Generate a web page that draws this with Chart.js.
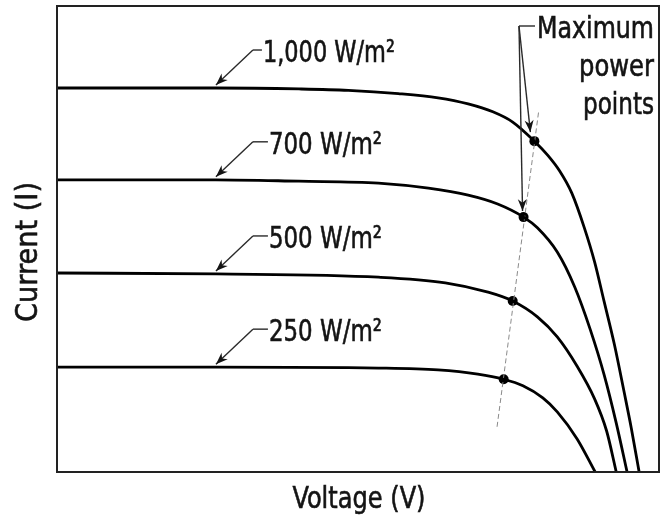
<!DOCTYPE html>
<html>
<head>
<meta charset="utf-8">
<script src="https://cdn.jsdelivr.net/npm/chart.js@4.4.1/dist/chart.umd.min.js"></script>
<style>
  html, body { margin: 0; padding: 0; background: #ffffff; }
  #wrap { width: 664px; height: 519px; position: relative; }
</style>
</head>
<body>
<div id="wrap"><canvas id="c"></canvas></div>
<script>
// ---- Data (voltage and current in relative units, 0..100 of the axes) ----
const seriesLabels = ['1,000 W/m²', '700 W/m²', '500 W/m²', '250 W/m²'];

const voltage1000 = [0, 26.4, 40.2, 48.4, 56.7, 63.3, 68.3, 72.4, 75.7, 79.3, 81.5, 83.5, 85.5, 87.6, 89.3, 90.9, 92.6, 94.2, 95.4, 96.7];
const current1000 = [82.4, 82.4, 82.2, 81.9, 81.2, 80.3, 79.0, 77.3, 75.1, 71.0, 68.0, 64.6, 59.9, 52.4, 45.1, 36.5, 27.3, 17.2, 9.4, 0];

const voltage700 = [0, 26.4, 40.2, 53.4, 61.7, 68.3, 73.2, 77.5, 79.8, 83.1, 86.0, 88.6, 90.9, 92.9, 94.7];
const current700 = [62.7, 62.7, 62.4, 62.0, 60.9, 59.4, 57.5, 54.7, 52.4, 47.2, 39.7, 30.5, 20.8, 10.5, 0];

const voltage500 = [0, 26.4, 53.4, 64.5, 71.6, 75.7, 79.8, 83.1, 86.4, 89.3, 91.3, 92.9];
const current500 = [42.7, 42.5, 41.8, 40.6, 38.6, 36.7, 33.3, 29.0, 22.7, 15.7, 8.8, 0];

const voltage250 = [0, 26.4, 53.4, 63.3, 69.9, 74.2, 77.4, 80.7, 83.1, 86.4, 89.4];
const current250 = [22.5, 22.5, 22.3, 21.9, 21.0, 19.9, 18.5, 15.9, 12.9, 7.1, 0];

const mppVoltage = [79.3, 77.5, 75.7, 74.2];
const mppCurrent = [71.0, 54.7, 36.7, 19.9];

const mppTrendVoltage = [73.1, 80.0];
const mppTrendCurrent = [9.7, 77.3];

const labelArrowVoltage = 26.4;   // where the irradiance label arrows touch the curves
const mppLabelLines = ['Maximum', 'power', 'points'];
const xTitle = 'Voltage (V)';
const yTitle = 'Current (I)';

// ---- helpers ----
const zip = (xs, ys) => xs.map((x, i) => ({ x: x, y: ys[i] }));
const FAMILY = '"Liberation Sans Narrow", "DejaVu Sans Condensed", "Liberation Sans", Arial, sans-serif';

function fitText(ctx, text, x, y, targetW, size, align) {
  ctx.font = size + 'px ' + FAMILY;
  const w = ctx.measureText(text).width;
  const s = targetW / w;
  ctx.save();
  ctx.translate(x, y);
  ctx.scale(s, 1);
  ctx.textAlign = 'left';
  ctx.textBaseline = 'alphabetic';
  const dx = align === 'right' ? -w : (align === 'center' ? -w / 2 : 0);
  ctx.fillText(text, dx, 0);
  ctx.lineWidth = 0.6;
  ctx.strokeStyle = ctx.fillStyle;
  ctx.strokeText(text, dx, 0);
  ctx.restore();
}

function arrow(ctx, x0, y0, x1, y1) {
  ctx.beginPath();
  ctx.moveTo(x0, y0);
  ctx.lineTo(x1, y1);
  ctx.stroke();
  const a = Math.atan2(y1 - y0, x1 - x0);
  const L = 12, H = 4.5;
  ctx.beginPath();
  ctx.moveTo(x1, y1);
  ctx.lineTo(x1 - L * Math.cos(a) + H * Math.sin(a), y1 - L * Math.sin(a) - H * Math.cos(a));
  ctx.lineTo(x1 - L * 0.7 * Math.cos(a), y1 - L * 0.7 * Math.sin(a));
  ctx.lineTo(x1 - L * Math.cos(a) - H * Math.sin(a), y1 - L * Math.sin(a) + H * Math.cos(a));
  ctx.closePath();
  ctx.fill();
}

const curveStyle = {
  borderColor: '#000000',
  borderWidth: 2.8,
  pointRadius: 0,
  fill: false,
  cubicInterpolationMode: 'monotone'
};

const curves = [
  zip(voltage1000, current1000),
  zip(voltage700, current700),
  zip(voltage500, current500),
  zip(voltage250, current250)
];

const annotationPlugin = {
  id: 'annot',
  afterDatasetsDraw(chart) {
    const ctx = chart.ctx;
    const xs = chart.scales.x, ys = chart.scales.y;
    const ca = chart.chartArea;
    ctx.save();
    // frame
    ctx.strokeStyle = '#222222';
    ctx.lineWidth = 2;
    ctx.strokeRect(ca.left, ca.top, ca.right - ca.left, ca.bottom - ca.top);

    ctx.fillStyle = '#141414';
    ctx.strokeStyle = '#2a2a2a';
    ctx.lineWidth = 1.4;

    // irradiance labels with arrows
    const textGap = [10, 16, 16, 16];
    const textW = [132, 113, 113, 113];
    curves.forEach((pts, i) => {
      const yVal = pts[1].y;
      const tx = xs.getPixelForValue(labelArrowVoltage);
      const ty = ys.getPixelForValue(yVal) - 3;
      const ex = tx + 37, ey = ty - 35;
      ctx.strokeStyle = '#2a2a2a';
      ctx.lineWidth = 1.4;
      ctx.beginPath();
      ctx.moveTo(ex + textGap[i] - 1, ey);
      ctx.lineTo(ex, ey);
      ctx.stroke();
      arrow(ctx, ex, ey, tx, ty);
      fitText(ctx, seriesLabels[i], ex + textGap[i], ey + 12, textW[i], 31, 'left');
    });

    // maximum power point label
    ctx.strokeStyle = '#2a2a2a';
    ctx.lineWidth = 1.4;
    const elbowX = ca.right - 140, elbowY = ca.top + 20;
    ctx.beginPath();
    ctx.moveTo(elbowX, elbowY);
    ctx.lineTo(elbowX + 16, elbowY);
    ctx.stroke();
    const t1x = xs.getPixelForValue(mppVoltage[0]) - 4, t1y = ys.getPixelForValue(mppCurrent[0]) - 9;
    const t2x = xs.getPixelForValue(mppVoltage[1]) - 1, t2y = ys.getPixelForValue(mppCurrent[1]) - 6;
    arrow(ctx, elbowX, elbowY, t1x, t1y);
    arrow(ctx, elbowX, elbowY, t2x, t2y);
    const right = ca.right - 5;
    fitText(ctx, mppLabelLines[0], right, ca.top + 32, 117, 31, 'right');
    fitText(ctx, mppLabelLines[1], right, ca.top + 70, 75, 31, 'right');
    fitText(ctx, mppLabelLines[2], right, ca.top + 108, 71, 31, 'right');

    // axis titles
    fitText(ctx, xTitle, (ca.left + ca.right) / 2 + 1, ca.bottom + 36, 133, 31, 'center');
    ctx.save();
    ctx.translate(37, (ca.top + ca.bottom) / 2 + 13);
    ctx.rotate(-Math.PI / 2);
    fitText(ctx, yTitle, 0, 0, 140, 31, 'center');
    ctx.restore();

    ctx.restore();
  }
};

new Chart(document.getElementById('c'), {
  type: 'line',
  data: {
    datasets: [
      Object.assign({ label: seriesLabels[0], data: curves[0] }, curveStyle),
      Object.assign({ label: seriesLabels[1], data: curves[1] }, curveStyle),
      Object.assign({ label: seriesLabels[2], data: curves[2] }, curveStyle),
      Object.assign({ label: seriesLabels[3], data: curves[3] }, curveStyle),
      {
        label: 'MPP trend',
        data: zip(mppTrendVoltage, mppTrendCurrent),
        borderColor: '#8a8a8a',
        borderWidth: 1,
        borderDash: [5, 3],
        pointRadius: 0,
        fill: false
      },
      {
        label: 'Maximum power points',
        data: zip(mppVoltage, mppCurrent),
        showLine: false,
        pointRadius: 5,
        pointBackgroundColor: '#000000',
        pointBorderColor: '#000000',
        pointBorderWidth: 0
      }
    ]
  },
  options: {
    responsive: true,
    maintainAspectRatio: false,
    animation: false,
    layout: { padding: { left: 57, right: 2, top: 6, bottom: 47 } },
    plugins: { legend: { display: false }, tooltip: { enabled: false } },
    scales: {
      x: { type: 'linear', min: 0, max: 100, display: false },
      y: { type: 'linear', min: 0, max: 100, display: false }
    }
  },
  plugins: [annotationPlugin]
});
</script>
</body>
</html>
